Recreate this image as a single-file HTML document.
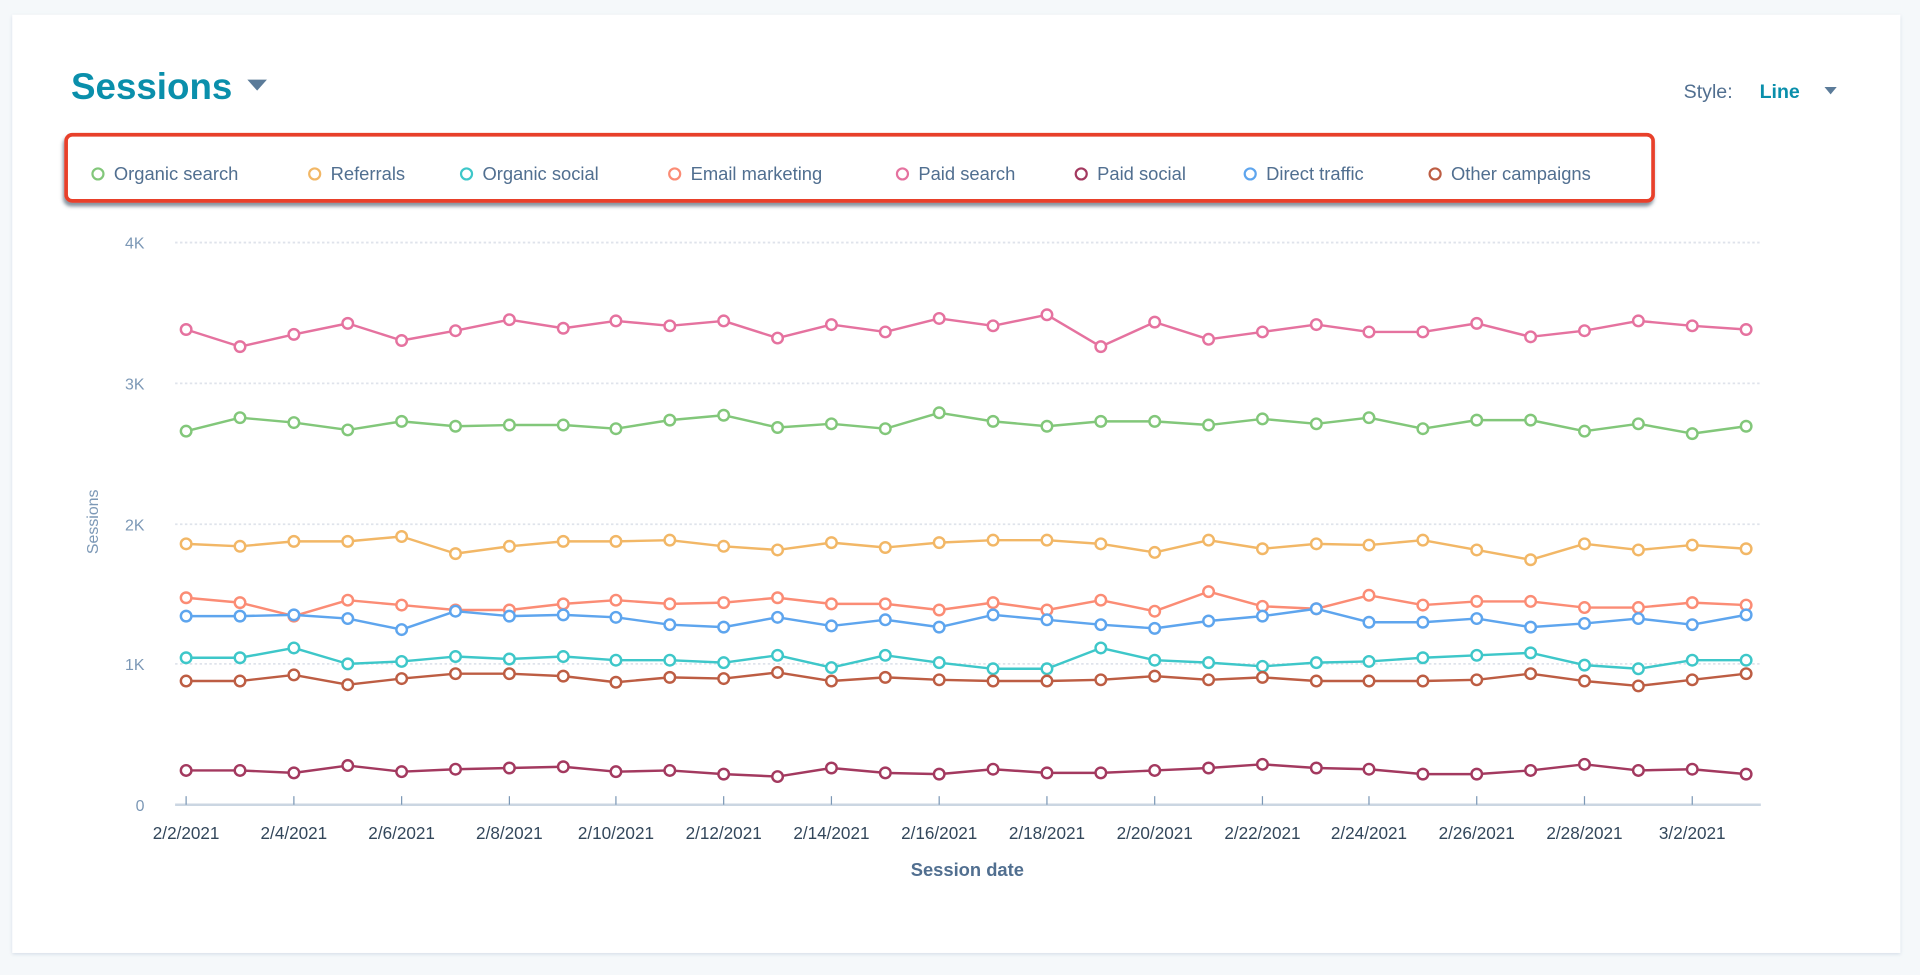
<!DOCTYPE html>
<html><head><meta charset="utf-8"><style>
html,body{margin:0;padding:0;background:#f5f8fa;}
svg{display:block;font-family:"Liberation Sans",sans-serif;}
</style></head><body>
<svg width="1920" height="975" viewBox="0 0 1568 796" preserveAspectRatio="none" xmlns="http://www.w3.org/2000/svg">
<defs>
<filter id="sh" x="-5%" y="-5%" width="110%" height="110%"><feDropShadow dx="0" dy="1" stdDeviation="1.5" flood-color="#cbd6e2" flood-opacity="0.8"/></filter>
<filter id="sh2" x="-5%" y="-30%" width="110%" height="160%"><feDropShadow dx="-1" dy="3" stdDeviation="1.5" flood-color="#33475b" flood-opacity="0.6"/></filter>
<marker id="mg" markerWidth="12" markerHeight="12" refX="6" refY="6" markerUnits="userSpaceOnUse"><circle cx="6" cy="6" r="4.3" fill="#fff" stroke="#82c77a" stroke-width="2"/></marker>
<marker id="mo" markerWidth="12" markerHeight="12" refX="6" refY="6" markerUnits="userSpaceOnUse"><circle cx="6" cy="6" r="4.3" fill="#fff" stroke="#f2b766" stroke-width="2"/></marker>
<marker id="mt" markerWidth="12" markerHeight="12" refX="6" refY="6" markerUnits="userSpaceOnUse"><circle cx="6" cy="6" r="4.3" fill="#fff" stroke="#3ec7c9" stroke-width="2"/></marker>
<marker id="ms" markerWidth="12" markerHeight="12" refX="6" refY="6" markerUnits="userSpaceOnUse"><circle cx="6" cy="6" r="4.3" fill="#fff" stroke="#fb8c75" stroke-width="2"/></marker>
<marker id="mp" markerWidth="12" markerHeight="12" refX="6" refY="6" markerUnits="userSpaceOnUse"><circle cx="6" cy="6" r="4.3" fill="#fff" stroke="#e5729f" stroke-width="2"/></marker>
<marker id="mr" markerWidth="12" markerHeight="12" refX="6" refY="6" markerUnits="userSpaceOnUse"><circle cx="6" cy="6" r="4.3" fill="#fff" stroke="#a3395f" stroke-width="2"/></marker>
<marker id="mb" markerWidth="12" markerHeight="12" refX="6" refY="6" markerUnits="userSpaceOnUse"><circle cx="6" cy="6" r="4.3" fill="#fff" stroke="#5ea5ee" stroke-width="2"/></marker>
<marker id="mn" markerWidth="12" markerHeight="12" refX="6" refY="6" markerUnits="userSpaceOnUse"><circle cx="6" cy="6" r="4.3" fill="#fff" stroke="#bd5d43" stroke-width="2"/></marker>
</defs>
<rect x="0" y="0" width="1568" height="796" fill="#f5f8fa"/>
<rect x="10" y="12" width="1542" height="766" fill="#fff" filter="url(#sh)"/>

<text x="58" y="81" font-size="30" font-weight="bold" fill="#0a8fab">Sessions</text>
<path d="M202 65 L218 65 L210 74 Z" fill="#5b7b99"/>
<text x="1375" y="80" font-size="16" fill="#516f90">Style:</text>
<text x="1437" y="80" font-size="16" font-weight="bold" fill="#0a8fab">Line</text>
<path d="M1490 71 L1500 71 L1495 77 Z" fill="#5b7b99"/>

<rect x="54" y="110" width="1296" height="54" rx="5" fill="#fff" stroke="#e8412b" stroke-width="3" filter="url(#sh2)"/>
<g font-size="15" fill="#516f90" stroke-width="1.8">
<circle cx="80" cy="142" r="4.5" fill="#fff" stroke="#82c77a"/><text x="93" y="147">Organic search</text>
<circle cx="257" cy="142" r="4.5" fill="#fff" stroke="#f2b766"/><text x="270" y="147">Referrals</text>
<circle cx="381" cy="142" r="4.5" fill="#fff" stroke="#3ec7c9"/><text x="394" y="147">Organic social</text>
<circle cx="551" cy="142" r="4.5" fill="#fff" stroke="#fb8c75"/><text x="564" y="147">Email marketing</text>
<circle cx="737" cy="142" r="4.5" fill="#fff" stroke="#e5729f"/><text x="750" y="147">Paid search</text>
<circle cx="883" cy="142" r="4.5" fill="#fff" stroke="#a3395f"/><text x="896" y="147">Paid social</text>
<circle cx="1021" cy="142" r="4.5" fill="#fff" stroke="#5ea5ee"/><text x="1034" y="147">Direct traffic</text>
<circle cx="1172" cy="142" r="4.5" fill="#fff" stroke="#bd5d43"/><text x="1185" y="147">Other campaigns</text>
</g>

<g stroke="#dfe3eb" stroke-width="1.5" stroke-dasharray="2 2">
<line x1="143" y1="198" x2="1438" y2="198"/>
<line x1="143" y1="313" x2="1438" y2="313"/>
<line x1="143" y1="428" x2="1438" y2="428"/>
<line x1="143" y1="542" x2="1438" y2="542"/>
</g>
<g font-size="13" fill="#7c98b6" text-anchor="end">
<text x="118" y="203">4K</text><text x="118" y="318">3K</text><text x="118" y="433">2K</text><text x="118" y="547">1K</text><text x="118" y="662">0</text>
</g>
<text transform="translate(80 426) rotate(-90)" font-size="13" fill="#7c98b6" text-anchor="middle">Sessions</text>

<line x1="143" y1="657" x2="1438" y2="657" stroke="#cbd6e2" stroke-width="2"/>
<g stroke="#7c98b6" stroke-width="1">
<line x1="152" y1="650" x2="152" y2="657"/><line x1="240" y1="650" x2="240" y2="657"/><line x1="328" y1="650" x2="328" y2="657"/><line x1="416" y1="650" x2="416" y2="657"/><line x1="503" y1="650" x2="503" y2="657"/><line x1="591" y1="650" x2="591" y2="657"/><line x1="679" y1="650" x2="679" y2="657"/><line x1="767" y1="650" x2="767" y2="657"/><line x1="855" y1="650" x2="855" y2="657"/><line x1="943" y1="650" x2="943" y2="657"/><line x1="1031" y1="650" x2="1031" y2="657"/><line x1="1118" y1="650" x2="1118" y2="657"/><line x1="1206" y1="650" x2="1206" y2="657"/><line x1="1294" y1="650" x2="1294" y2="657"/><line x1="1382" y1="650" x2="1382" y2="657"/>
</g>
<g font-size="14" fill="#33475b" text-anchor="middle">
<text x="152" y="685">2/2/2021</text><text x="240" y="685">2/4/2021</text><text x="328" y="685">2/6/2021</text><text x="416" y="685">2/8/2021</text><text x="503" y="685">2/10/2021</text><text x="591" y="685">2/12/2021</text><text x="679" y="685">2/14/2021</text><text x="767" y="685">2/16/2021</text><text x="855" y="685">2/18/2021</text><text x="943" y="685">2/20/2021</text><text x="1031" y="685">2/22/2021</text><text x="1118" y="685">2/24/2021</text><text x="1206" y="685">2/26/2021</text><text x="1294" y="685">2/28/2021</text><text x="1382" y="685">3/2/2021</text>
</g>
<text x="790" y="715" font-size="15" font-weight="bold" fill="#516f90" text-anchor="middle">Session date</text>

<g fill="none" stroke-width="2" stroke-linejoin="round">
<polyline stroke="#e5729f" marker-start="url(#mp)" marker-mid="url(#mp)" marker-end="url(#mp)" points="152,269 196,283 240,273 284,264 328,278 372,270 416,261 460,268 503,262 547,266 591,262 635,276 679,265 723,271 767,260 811,266 855,257 899,283 943,263 987,277 1031,271 1075,265 1118,271 1162,271 1206,264 1250,275 1294,270 1338,262 1382,266 1426,269"/>
<polyline stroke="#82c77a" marker-start="url(#mg)" marker-mid="url(#mg)" marker-end="url(#mg)" points="152,352 196,341 240,345 284,351 328,344 372,348 416,347 460,347 503,350 547,343 591,339 635,349 679,346 723,350 767,337 811,344 855,348 899,344 943,344 987,347 1031,342 1075,346 1118,341 1162,350 1206,343 1250,343 1294,352 1338,346 1382,354 1426,348"/>
<polyline stroke="#f2b766" marker-start="url(#mo)" marker-mid="url(#mo)" marker-end="url(#mo)" points="152,444 196,446 240,442 284,442 328,438 372,452 416,446 460,442 503,442 547,441 591,446 635,449 679,443 723,447 767,443 811,441 855,441 899,444 943,451 987,441 1031,448 1075,444 1118,445 1162,441 1206,449 1250,457 1294,444 1338,449 1382,445 1426,448"/>
<polyline stroke="#fb8c75" marker-start="url(#ms)" marker-mid="url(#ms)" marker-end="url(#ms)" points="152,488 196,492 240,503 284,490 328,494 372,498 416,498 460,493 503,490 547,493 591,492 635,488 679,493 723,493 767,498 811,492 855,498 899,490 943,499 987,483 1031,495 1075,497 1118,486 1162,494 1206,491 1250,491 1294,496 1338,496 1382,492 1426,494"/>
<polyline stroke="#5ea5ee" marker-start="url(#mb)" marker-mid="url(#mb)" marker-end="url(#mb)" points="152,503 196,503 240,502 284,505 328,514 372,499 416,503 460,502 503,504 547,510 591,512 635,504 679,511 723,506 767,512 811,502 855,506 899,510 943,513 987,507 1031,503 1075,497 1118,508 1162,508 1206,505 1250,512 1294,509 1338,505 1382,510 1426,502"/>
<polyline stroke="#3ec7c9" marker-start="url(#mt)" marker-mid="url(#mt)" marker-end="url(#mt)" points="152,537 196,537 240,529 284,542 328,540 372,536 416,538 460,536 503,539 547,539 591,541 635,535 679,545 723,535 767,541 811,546 855,546 899,529 943,539 987,541 1031,544 1075,541 1118,540 1162,537 1206,535 1250,533 1294,543 1338,546 1382,539 1426,539"/>
<polyline stroke="#bd5d43" marker-start="url(#mn)" marker-mid="url(#mn)" marker-end="url(#mn)" points="152,556 196,556 240,551 284,559 328,554 372,550 416,550 460,552 503,557 547,553 591,554 635,549 679,556 723,553 767,555 811,556 855,556 899,555 943,552 987,555 1031,553 1075,556 1118,556 1162,556 1206,555 1250,550 1294,556 1338,560 1382,555 1426,550"/>
<polyline stroke="#a3395f" marker-start="url(#mr)" marker-mid="url(#mr)" marker-end="url(#mr)" points="152,629 196,629 240,631 284,625 328,630 372,628 416,627 460,626 503,630 547,629 591,632 635,634 679,627 723,631 767,632 811,628 855,631 899,631 943,629 987,627 1031,624 1075,627 1118,628 1162,632 1206,632 1250,629 1294,624 1338,629 1382,628 1426,632"/>
</g>
</svg>
</body></html>
